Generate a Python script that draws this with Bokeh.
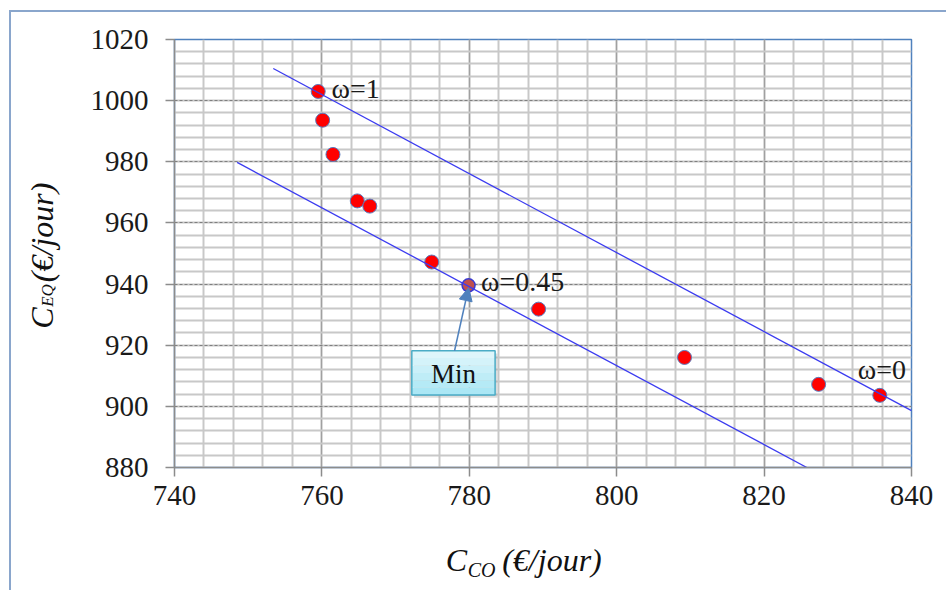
import math
from bokeh.plotting import figure
from bokeh.models import (Range1d, SingleIntervalTicker, FixedTicker, LinearAxis, Label,
                          Arrow, NormalHead)
from bokeh.embed import file_html
from bokeh.resources import INLINE

# ---- data ----
c_co = [759.5, 760.1, 761.5, 764.8, 766.5, 774.9, 789.4, 809.2, 827.4, 835.7]
c_eq = [1003.0, 993.6, 982.4, 967.2, 965.5, 947.2, 931.8, 916.0, 907.2, 903.6]
min_co = [779.9]
min_eq = [939.6]

upper_x = [753.4, 840.0]
upper_y = [1010.5, 898.6]
lower_x = [748.5, 825.8]
lower_y = [979.8, 880.0]

x_ticks_lbl = [740, 760, 780, 800, 820, 840]
y_ticks_lbl = [880, 900, 920, 940, 960, 980, 1000, 1020]

omega_text = ["ω=1", "ω=0.45", "ω=0"]
omega_x = [761.3, 781.6, 832.7]
omega_y = [1003.9, 941.0, 912.0]

x_title_main = ["C", "(€/jour)"]
x_title_sub = ["CO"]
y_title_main = ["C", "(€/jour)"]
y_title_sub = ["EQ"]

SERIF = "Liberation Serif"

p = figure(frame_width=737, frame_height=428, output_backend="svg", toolbar_location=None,
           x_range=Range1d(740, 840), y_range=Range1d(880, 1020),
           min_border_left=163, min_border_right=35, min_border_top=27,
           min_border_bottom=123)
p.background_fill_color = "white"
p.border_fill_color = "white"
p.outline_line_color = "#4F81BD"
p.outline_line_width = 1.5
p.styles = {"margin-left": "9px", "margin-top": "10px",
            "border-left": "2px solid #8AA6CC", "border-top": "2px solid #8AA6CC"}

xt = SingleIntervalTicker(interval=20, num_minor_ticks=5)
yt = SingleIntervalTicker(interval=20, num_minor_ticks=5)
p.xaxis.ticker = xt
p.yaxis.ticker = yt
p.xgrid.ticker = xt
p.ygrid.ticker = yt

p.xgrid.grid_line_color = "#A0A0A0"
p.xgrid.grid_line_width = 1.3
p.xgrid.minor_grid_line_color = "#C8C8C8"
p.xgrid.minor_grid_line_width = 2
p.ygrid.grid_line_color = "#7F7F7F"
p.ygrid.grid_line_width = 1
p.ygrid.grid_line_dash = "3 2"
p.ygrid.minor_grid_line_color = "#C8C8C8"
p.ygrid.minor_grid_line_width = 2

for ax in (p.xaxis, p.yaxis):
    ax.axis_line_color = "#8C8C8C"
    ax.axis_line_width = 1.5
    ax.major_tick_line_color = "#8C8C8C"
    ax.major_tick_line_width = 1.5
    ax.major_tick_out = 9
    ax.major_tick_in = 0
    ax.minor_tick_line_color = None
    ax.major_label_text_font = SERIF
    ax.major_label_text_font_size = "29px"
    ax.major_label_text_color = "#1a1a1a"
p.xaxis.major_label_standoff = 9
p.yaxis.major_label_standoff = 17
p.xaxis.major_label_overrides = {v: str(v) for v in x_ticks_lbl}
p.yaxis.major_label_overrides = {v: str(v) for v in y_ticks_lbl}


def title_axis(side, ticks, texts, size, standoff):
    ax = LinearAxis(ticker=FixedTicker(ticks=ticks))
    ax.major_label_overrides = {t: s for t, s in zip(ticks, texts)}
    ax.axis_line_color = None
    ax.major_tick_line_color = None
    ax.minor_tick_line_color = None
    ax.major_tick_out = 0
    ax.major_tick_in = 0
    ax.major_label_text_font = SERIF
    ax.major_label_text_font_style = "italic"
    ax.major_label_text_font_size = size
    ax.major_label_text_color = "#111111"
    ax.major_label_standoff = standoff
    if side == "left":
        ax.major_label_orientation = "vertical"
    p.add_layout(ax, side)
    return ax


# x title: C_CO (€/jour)
title_axis("below", [778.26, 791.22], x_title_main, "32px", 34)
title_axis("below", [781.66], x_title_sub, "20px", -22)
# y title: C_EQ (€/jour)
title_axis("left", [928.9, 956.87], y_title_main, "32px", 27)
title_axis("left", [936.26], y_title_sub, "17px", -36)

# points
p.scatter(c_co, c_eq, size=14, fill_color="#FF0000", line_color="#5A7BBE", line_width=1)
p.scatter(min_co, min_eq, size=13, fill_color="#C0504D", line_color="#3A3AD0", line_width=1.5)

# iso lines
p.line(upper_x, upper_y, line_color="#3B3BF0", line_width=1.3)
p.line(lower_x, lower_y, line_color="#3B3BF0", line_width=1.3)

# omega labels
for t, x, y in zip(omega_text, omega_x, omega_y):
    p.add_layout(Label(x=x, y=y, text=t, text_font=SERIF, text_font_size="28px",
                       text_color="#1a1a1a", text_align="left", text_baseline="middle"))

# Min callout box (simulated gradient)
bx0, bx1, by0, by1 = 772.2, 783.5, 903.7, 918.2
p.quad(left=[bx0 + 0.3], right=[bx1 + 0.3], bottom=[by0 - 0.9], top=[by1 - 0.9],
       fill_color="#9a9a9a", fill_alpha=0.35, line_color=None)
n = 6
for i in range(n):
    b = by0 + (by1 - by0) * i / n
    t = by0 + (by1 - by0) * (i + 1) / n
    r0, g0, b0 = (0xA6, 0xE6, 0xF5)
    r1, g1, b1 = (0xE4, 0xF8, 0xFC)
    f = (i + 0.5) / n
    col = "#%02x%02x%02x" % (int(r0 + (r1 - r0) * f), int(g0 + (g1 - g0) * f), int(b0 + (b1 - b0) * f))
    p.quad(left=[bx0], right=[bx1], bottom=[b], top=[t], fill_color=col, line_color=None)
p.quad(left=[bx0], right=[bx1], bottom=[by0], top=[by1], fill_color=None,
       line_color="#4BACC6", line_width=1.5)
p.add_layout(Label(x=(bx0 + bx1) / 2, y=910.5, text="Min", text_font=SERIF,
                   text_font_size="27px", text_color="#111111",
                   text_align="center", text_baseline="middle"))
p.add_layout(Arrow(x_start=778.0, y_start=by1, x_end=min_co[0], y_end=min_eq[0] - 0.8,
                   line_color="#4F81BD", line_width=1.5,
                   end=NormalHead(size=13, fill_color="#4F81BD", line_color="#4F81BD")))

open("out.html", "w").write(file_html(p, INLINE))
